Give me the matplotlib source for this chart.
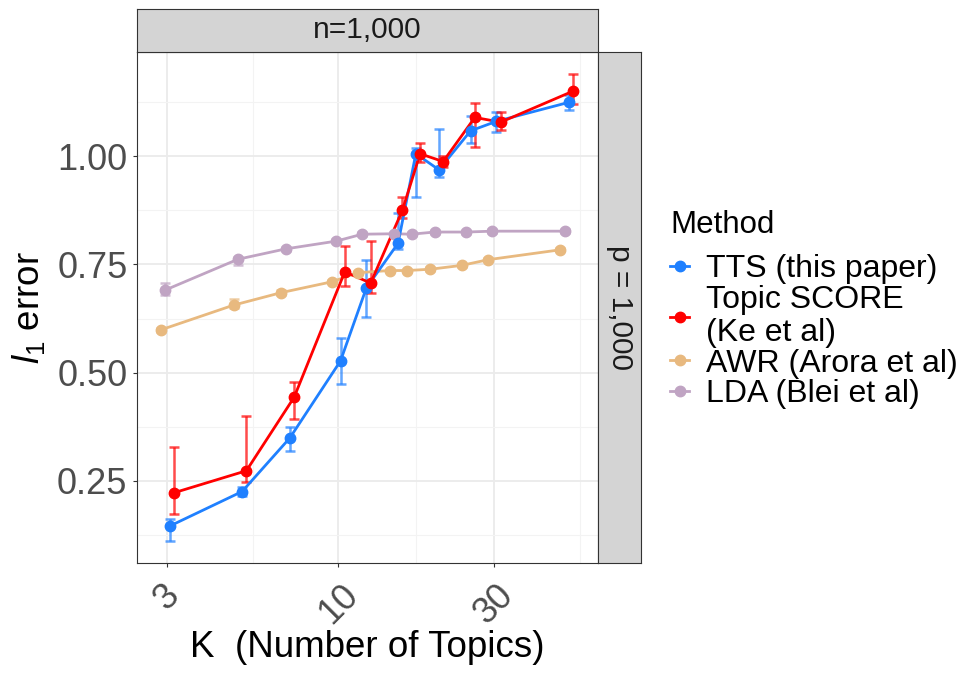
import numpy as np
import matplotlib
matplotlib.use("Agg")
import matplotlib.pyplot as plt
from matplotlib.ticker import FixedLocator, NullFormatter
from matplotlib.lines import Line2D

plt.rcParams['font.family'] = ['Liberation Sans', 'DejaVu Sans']
plt.rcParams['mathtext.fontset'] = 'custom'
plt.rcParams['mathtext.rm'] = 'Liberation Sans'
plt.rcParams['mathtext.it'] = 'Liberation Sans:italic'

# ---------------- data ----------------
K = [3, 5, 7, 10, 12, 15, 17, 20, 25, 30, 50]
methods = ["TTS (this paper)", "Topic SCORE\n(Ke et al)", "AWR (Arora et al)", "LDA (Blei et al)"]
colors = ["#1F80FF", "#FF0000", "#E8B97F", "#C0A4C3"]

tts_mean = [0.145, 0.225, 0.349, 0.527, 0.696, 0.799, 1.006, 0.969, 1.059, 1.081, 1.125]
tts_lo   = [0.111, 0.215, 0.319, 0.473, 0.628, 0.785, 0.905, 0.952, 1.030, 1.056, 1.107]
tts_hi   = [0.161, 0.235, 0.375, 0.580, 0.760, 0.868, 1.020, 1.064, 1.094, 1.103, 1.143]

ts_mean = [0.222, 0.273, 0.443, 0.733, 0.707, 0.875, 1.006, 0.988, 1.090, 1.079, 1.151]
ts_lo   = [0.172, 0.248, 0.393, 0.700, 0.685, 0.857, 0.988, 0.975, 1.022, 1.061, 1.120]
ts_hi   = [0.327, 0.400, 0.479, 0.793, 0.804, 0.907, 1.032, 1.000, 1.124, 1.102, 1.190]

awr_mean = [0.599, 0.656, 0.685, 0.710, 0.731, 0.736, 0.736, 0.739, 0.748, 0.761, 0.784]
awr_lo   = [0.594, 0.650, 0.680, 0.706, 0.727, 0.732, 0.732, 0.735, 0.744, 0.757, 0.780]
awr_hi   = [0.604, 0.669, 0.690, 0.714, 0.735, 0.740, 0.740, 0.743, 0.752, 0.765, 0.788]

lda_mean = [0.691, 0.762, 0.786, 0.804, 0.820, 0.821, 0.820, 0.825, 0.825, 0.827, 0.827]
lda_lo   = [0.680, 0.749, 0.782, 0.800, 0.816, 0.817, 0.816, 0.821, 0.821, 0.823, 0.823]
lda_hi   = [0.706, 0.768, 0.790, 0.808, 0.824, 0.825, 0.824, 0.829, 0.829, 0.831, 0.831]

means = [tts_mean, ts_mean, awr_mean, lda_mean]
los = [tts_lo, ts_lo, awr_lo, lda_lo]
his = [tts_hi, ts_hi, awr_hi, lda_hi]
# dodge (log10 units), groups dodged in alphabetical order: AWR, LDA, TTS, Topic SCORE
dodge = [0.0065, 0.0195, -0.0195, -0.0065]

x_ticks = [3, 10, 30]
x_ticklabels = ["3", "10", "30"]
y_ticks = [0.25, 0.50, 0.75, 1.00]
y_ticklabels = ["0.25", "0.50", "0.75", "1.00"]

# ---------------- figure ----------------
W, H = 979, 675
fig = plt.figure(figsize=(W / 100, H / 100), dpi=100)
L, R, T, B = 137, 598.3, 51.7, 563.3
ax = fig.add_axes([L / W, 1 - B / H, (R - L) / W, (B - T) / H])

ax.set_xscale('log')
ax.set_xlim(2.42, 62.4)
ax.set_ylim(0.059, 1.242)

ax.set_facecolor('white')
for s in ax.spines.values():
    s.set_color('#333333')
    s.set_linewidth(0.8)

ax.xaxis.set_major_locator(FixedLocator(x_ticks))
ax.set_xticklabels(x_ticklabels)
ax.xaxis.set_minor_locator(FixedLocator([np.sqrt(3 * 10), np.sqrt(10 * 30), np.sqrt(30 * 100)]))
ax.xaxis.set_minor_formatter(NullFormatter())
ax.yaxis.set_major_locator(FixedLocator(y_ticks))
ax.set_yticklabels(y_ticklabels)
ax.yaxis.set_minor_locator(FixedLocator([0.125, 0.375, 0.625, 0.875, 1.125]))

ax.grid(which='major', color='#EBEBEB', linewidth=1.3, zorder=0)
ax.grid(which='minor', color='#F3F3F3', linewidth=0.8, zorder=0)
ax.set_axisbelow(True)

ax.tick_params(which='major', length=3.2, width=0.8, color='#333333',
               labelcolor='#4D4D4D', labelsize=26)
ax.tick_params(which='minor', length=0)
ax.tick_params(axis='x', pad=7.2, labelrotation=45)
ax.tick_params(axis='y', pad=3.7)

# draw layers: errorbars, lines, points; group order alphabetical
order = [2, 3, 0, 1]
Karr = np.array(K, dtype=float)
for i in order:
    xs = Karr * 10 ** dodge[i]
    m = np.array(means[i]); lo = np.array(los[i]); hi = np.array(his[i])
    ax.errorbar(xs, m, yerr=[m - lo, hi - m], fmt='none', ecolor=colors[i],
                alpha=0.7, elinewidth=1.8, capsize=3.4, capthick=1.8, zorder=2)
for i in order:
    xs = Karr * 10 ** dodge[i]
    ax.plot(xs, means[i], color=colors[i], linewidth=2.0, zorder=3)
for i in order:
    xs = Karr * 10 ** dodge[i]
    ax.plot(xs, means[i], linestyle='none', marker='o', markersize=7.5,
            color=colors[i], zorder=4)

ax.set_xlabel("K  (Number of Topics)", fontsize=26.5, color='black')
ax.set_ylabel(r"$l_1$ error", fontsize=26.5, color='black')
ax.xaxis.set_label_coords(0.5, -0.131)
ax.yaxis.set_label_coords(-0.196, 0.5)

# strips
st = fig.add_axes([L / W, 1 - T / H, (R - L) / W, (T - 9.3) / H])
st.set_facecolor('#D4D4D4')
st.set_xticks([]); st.set_yticks([])
for s in st.spines.values():
    s.set_color('#333333'); s.set_linewidth(0.8)
st.text(0.5, 0.5, "n=1,000", ha='center', va='center', fontsize=21.5, color='#1A1A1A',
        transform=st.transAxes)

sr = fig.add_axes([R / W, 1 - B / H, 42.4 / W, (B - T) / H])
sr.set_facecolor('#D4D4D4')
sr.set_xticks([]); sr.set_yticks([])
for s in sr.spines.values():
    s.set_color('#333333'); s.set_linewidth(0.8)
sr.text(0.5, 0.5, "p = 1,000", ha='center', va='center', rotation=-90, fontsize=21.5,
        color='#1A1A1A', transform=sr.transAxes)

# legend
handles = [Line2D([0], [0], color=colors[i], linewidth=2.0, marker='o', markersize=7.5)
           for i in range(4)]
leg = fig.legend(handles, methods, title="Method", loc='upper left',
                 bbox_to_anchor=(670 / W, 1 - 210 / H), frameon=False,
                 fontsize=23, title_fontsize=22.5, labelspacing=0.02,
                 handlelength=0.6, handletextpad=0.53, borderpad=0.0,
                 borderaxespad=0.0, alignment='left')
for t in leg.get_texts():
    t.set_linespacing(1.15)
try:
    leg._legend_box.sep = 10
except Exception:
    pass

fig.savefig("out.png", dpi=100)
